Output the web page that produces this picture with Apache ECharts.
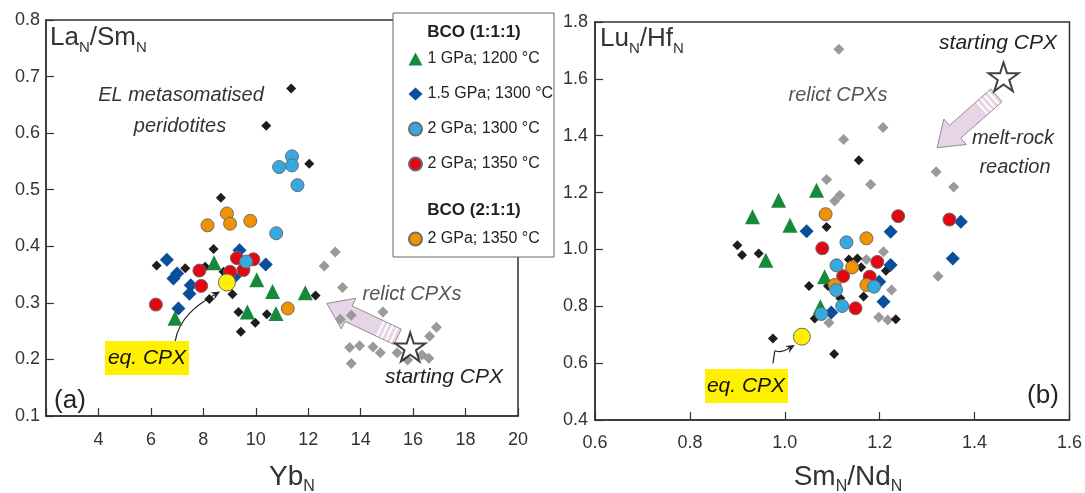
<!DOCTYPE html>
<html>
<head>
<meta charset="utf-8">
<script src="https://cdn.jsdelivr.net/npm/echarts@6/dist/echarts.min.js"></script>
<style>
  html, body { margin: 0; padding: 0; background: #fff; }
  #chart { width: 1085px; height: 493px; }
</style>
</head>
<body>
<div id="chart"></div>
<script>
// series names (legend)
const NAMES = ['1 GPa; 1200 °C', '1.5 GPa; 1300 °C', '2 GPa; 1300 °C', '2 GPa; 1350 °C', '2 GPa; 1350 °C (2:1:1)'];

// panel (a): Yb_N vs La_N/Sm_N
const aGreen = [[8.41, 0.371], [10.04, 0.341], [10.64, 0.320], [11.89, 0.318], [9.68, 0.284], [10.77, 0.281], [6.92, 0.273]];
const aBlueDia = [[6.61, 0.376], [9.38, 0.393], [10.38, 0.368], [6.86, 0.343], [7.0, 0.352], [7.52, 0.331], [7.47, 0.316], [7.05, 0.290], [9.19, 0.346]];
const aLBlue = [[11.38, 0.559], [10.89, 0.540], [11.38, 0.543], [11.59, 0.508], [10.78, 0.423], [9.63, 0.373]];
const aRed = [[9.28, 0.379], [9.91, 0.377], [9.53, 0.358], [7.85, 0.357], [7.92, 0.330], [6.19, 0.297], [9.02, 0.355]];
const aOrange = [[8.90, 0.458], [9.02, 0.440], [8.16, 0.437], [9.79, 0.445], [11.22, 0.290]];
const aBlack = [[11.35, 0.679], [10.4, 0.613], [12.04, 0.546], [8.67, 0.486], [8.39, 0.395], [6.22, 0.366], [7.31, 0.361],
  [8.07, 0.364], [8.77, 0.355], [8.23, 0.307], [9.11, 0.315], [9.34, 0.284], [10.42, 0.280], [9.98, 0.265], [9.43, 0.249], [12.28, 0.313]];
const aGrey = [[13.03, 0.390], [12.61, 0.365], [13.31, 0.327], [14.85, 0.284], [13.22, 0.271], [13.64, 0.278], [13.58, 0.221],
  [13.96, 0.224], [14.47, 0.222], [14.75, 0.212], [13.64, 0.193], [15.39, 0.212], [15.79, 0.199], [16.6, 0.202], [16.34, 0.208],
  [16.63, 0.241], [16.89, 0.257]];
const aEq = [[8.90, 0.336]];
const aStart = [[15.89, 0.222]];
const aArrow = [[15.41, 0.240, 12.71, 0.299]];
const aPointer = [[6.92, 0.231, 8.64, 0.320]];

// panel (b): Sm_N/Nd_N vs Lu_N/Hf_N
const bGreen = [[1.067, 1.208], [0.987, 1.173], [0.932, 1.115], [1.011, 1.085], [0.960, 0.962], [1.084, 0.904], [1.075, 0.798]];
const bBlueDia = [[1.046, 1.064], [1.098, 0.778], [1.371, 1.097], [1.223, 1.062], [1.354, 0.968], [1.223, 0.945], [1.199, 0.886], [1.208, 0.816]];
const bLBlue = [[1.109, 0.944], [1.108, 0.857], [1.077, 0.773], [1.130, 1.025], [1.188, 0.869], [1.121, 0.801]];
const bRed = [[1.079, 1.004], [1.239, 1.117], [1.347, 1.105], [1.195, 0.956], [1.123, 0.906], [1.179, 0.904], [1.149, 0.793]];
const bOrange = [[1.086, 1.124], [1.172, 1.039], [1.142, 0.937], [1.172, 0.875], [1.105, 0.875]];
const bBlack = [[1.088, 1.079], [0.900, 1.015], [0.910, 0.980], [0.945, 0.986], [1.051, 0.871], [1.091, 0.871], [1.063, 0.757],
  [0.975, 0.687], [1.104, 0.632], [1.156, 1.314], [1.135, 0.965], [1.153, 0.968], [1.161, 0.937], [1.213, 0.925], [1.117, 0.828],
  [1.166, 0.834], [1.234, 0.754]];
const bGrey = [[1.088, 1.246], [1.105, 1.170], [1.093, 0.742], [1.114, 1.704], [1.207, 1.429], [1.124, 1.387], [1.319, 1.273],
  [1.181, 1.228], [1.356, 1.220], [1.116, 1.191], [1.208, 0.992], [1.172, 0.965], [1.323, 0.906], [1.225, 0.857], [1.198, 0.761], [1.217, 0.752]];
const bEq = [[1.036, 0.693]];
const bStart = [[1.461, 1.607]];
const bArrow = [[1.446, 1.542, 1.321, 1.358]];
const bPointer = [[0.975, 0.599, 1.021, 0.664]];

const FONT = '"Liberation Sans", Arial, sans-serif';
const GREEN = '#17893b', DBLUE = '#0b4e9b', LBLUE = '#36a9e1', RED = '#e30613',
  ORANGE = '#f39200', BLACK = '#1d1d1b', GREY = '#9a9a9a', YELLOW = '#fff000';
const STAR = 'path://M50,2 L61,36 L97,36 L68,57 L79,92 L50,71 L21,92 L32,57 L3,36 L39,36 Z';

const chart = echarts.init(document.getElementById('chart'));

function dot(name, data, g, symbol, size, color, border, z) {
  return {
    type: 'scatter', name: name, data: data, xAxisIndex: g, yAxisIndex: g,
    symbol: symbol, symbolSize: size, z: z || 2, silent: true,
    itemStyle: { color: color, borderColor: border ? '#6b6b6b' : color, borderWidth: border ? 1 : 0, opacity: 1 }
  };
}

// pink "melt-rock reaction" arrow
function fatArrow(params, api) {
  const p0 = api.coord([api.value(0), api.value(1)]);
  const p1 = api.coord([api.value(2), api.value(3)]);
  const dx = p1[0] - p0[0], dy = p1[1] - p0[1], L = Math.hypot(dx, dy);
  const ux = dx / L, uy = dy / L, nx = -uy, ny = ux;
  const w = 8.5, hw = 17, hl = 24;
  const pt = (b, s, o) => [b[0] + ux * s + nx * o, b[1] + uy * s + ny * o];
  const nk = pt(p1, -hl, 0);
  const children = [{
    type: 'polygon',
    shape: { points: [pt(p0, 0, w), pt(nk, 0, w), pt(nk, 0, hw), p1, pt(nk, 0, -hw), pt(nk, 0, -w), pt(p0, 0, -w)] },
    style: { fill: '#e8d4e7', stroke: '#8e8e8e', lineWidth: 1 }
  }];
  [4, 9, 14, 19].forEach(s => {
    const a = pt(p0, s, w - 0.5), b = pt(p0, s, -w + 0.5);
    children.push({ type: 'line', shape: { x1: a[0], y1: a[1], x2: b[0], y2: b[1] }, style: { stroke: '#fff', lineWidth: 2 } });
  });
  return { type: 'group', children: children };
}

// curved thin pointer for "eq. CPX"
function pointer(params, api) {
  const p0 = api.coord([api.value(0), api.value(1)]);
  const p1 = api.coord([api.value(2), api.value(3)]);
  const c1 = [p0[0] + 4, p0[1] - 24];
  const c2 = [p1[0] - 24, p1[1] + 14];
  let ux = p1[0] - c2[0], uy = p1[1] - c2[1];
  const L = Math.hypot(ux, uy); ux /= L; uy /= L;
  const nx = -uy, ny = ux;
  const head = [p1, [p1[0] - ux * 9 + nx * 4, p1[1] - uy * 9 + ny * 4], [p1[0] - ux * 6, p1[1] - uy * 6],
    [p1[0] - ux * 9 - nx * 4, p1[1] - uy * 9 - ny * 4]];
  return {
    type: 'group', children: [
      { type: 'bezierCurve', shape: { x1: p0[0], y1: p0[1], cpx1: c1[0], cpy1: c1[1], cpx2: c2[0], cpy2: c2[1], x2: p1[0] - ux * 6, y2: p1[1] - uy * 6 },
        style: { stroke: '#222', lineWidth: 1.2, fill: null } },
      { type: 'polygon', shape: { points: head }, style: { fill: '#222' } }
    ]
  };
}

function annot(data, g, fn) {
  return { type: 'custom', data: data, xAxisIndex: g, yAxisIndex: g, renderItem: fn, silent: true, z: 1, clip: false };
}

function panelSeries(g, d) {
  return [
    annot(d.arrow, g, fatArrow),
    annot(d.pointer, g, pointer),
    dot('relict', d.grey, g, 'diamond', 11, GREY, false, 2),
    dot('peridotites', d.black, g, 'diamond', 10, BLACK, false, 2),
    dot(NAMES[0], d.green, g, 'triangle', 15, GREEN, false, 3),
    dot(NAMES[1], d.blueDia, g, 'diamond', 14, DBLUE, false, 3),
    dot(NAMES[3], d.red, g, 'circle', 13, RED, true, 3),
    dot(NAMES[4], d.orange, g, 'circle', 13, ORANGE, true, 3),
    dot(NAMES[2], d.lblue, g, 'circle', 13, LBLUE, true, 3),
    dot('eq', d.eq, g, 'circle', 17, YELLOW, true, 4),
    {
      type: 'scatter', name: 'start', data: d.start, xAxisIndex: g, yAxisIndex: g, symbol: STAR, symbolSize: 30,
      symbolKeepAspect: true, z: 4, silent: true, itemStyle: { color: '#fff', borderColor: '#111', borderWidth: 2 }
    }
  ];
}

const axisCommon = {
  type: 'value',
  splitLine: { show: false },
  axisLine: { lineStyle: { color: '#333', width: 1.5 } },
  axisTick: { inside: true, length: 8, lineStyle: { color: '#333', width: 1.2 } },
  axisLabel: { fontSize: 18, color: '#333', fontFamily: FONT }
};
const fix1 = v => v.toFixed(1);

function ax(extra, label) {
  return Object.assign({}, axisCommon, extra, { axisLabel: Object.assign({}, axisCommon.axisLabel, label) });
}

const rich = {
  m: { fontSize: 26, lineHeight: 34, fontFamily: FONT, color: '#222' },
  s: { fontSize: 15, lineHeight: 17, verticalAlign: 'bottom', fontFamily: FONT, color: '#222' },
  M: { fontSize: 28, lineHeight: 36, fontFamily: FONT, color: '#222' },
  S: { fontSize: 16, lineHeight: 18, verticalAlign: 'bottom', fontFamily: FONT, color: '#222' }
};

function txt(x, y, text, size, opts) {
  return Object.assign({
    type: 'text', x: x, y: y, z: 20, silent: true,
    style: Object.assign({ text: text, fontSize: size, fontFamily: FONT, fill: '#333', align: 'center', verticalAlign: 'middle' }, opts || {})
  });
}
function itxt(x, y, text, color) {
  return txt(x, y, text, 20, { fontStyle: 'italic', fill: color || '#333' });
}

const option = {
  animation: false,
  textStyle: { fontFamily: FONT },
  grid: [
    { left: 46, top: 20, width: 472, height: 396, show: true, borderColor: '#333', borderWidth: 1.5, backgroundColor: 'transparent' },
    { left: 595, top: 22, width: 475, height: 398, show: true, borderColor: '#333', borderWidth: 1.5, backgroundColor: 'transparent' }
  ],
  xAxis: [
    ax({ gridIndex: 0, min: 2, max: 20, interval: 2 }, { margin: 15, formatter: v => (v === 2 ? '' : String(v)) }),
    ax({ gridIndex: 1, min: 0.6, max: 1.6, interval: 0.2 }, { margin: 14, formatter: fix1 })
  ],
  yAxis: [
    ax({ gridIndex: 0, min: 0.1, max: 0.8, interval: 0.1 }, { margin: 6, formatter: fix1 }),
    ax({ gridIndex: 1, min: 0.4, max: 1.8, interval: 0.2 }, { margin: 7, formatter: fix1 })
  ],
  legend: [
    {
      data: NAMES.slice(0, 4), orient: 'vertical', left: 403, top: 46, itemGap: 19, itemWidth: 14, itemHeight: 13,
      selectedMode: false, z: 30, textStyle: { fontSize: 16, color: '#222', lineHeight: 16, fontFamily: FONT }
    },
    {
      data: [NAMES[4]], orient: 'vertical', left: 403, top: 226, itemWidth: 14, itemHeight: 13,
      selectedMode: false, z: 30, formatter: n => n.replace(' (2:1:1)', ''),
      textStyle: { fontSize: 16, color: '#222', lineHeight: 16, fontFamily: FONT }
    }
  ],
  graphic: [
    { type: 'rect', z: 15, silent: true, shape: { x: 393, y: 13, width: 161, height: 244 }, style: { fill: '#fff', stroke: '#666', lineWidth: 1 } },
    txt(474, 32, 'BCO (1:1:1)', 17, { fontWeight: 'bold', fill: '#222' }),
    txt(474, 210, 'BCO (2:1:1)', 17, { fontWeight: 'bold', fill: '#222' }),
    // panel titles
    txt(50, 21, '{m|La}{s|N}{m|/Sm}{s|N}', 26, { rich: rich, align: 'left', verticalAlign: 'top' }),
    txt(600, 22, '{m|Lu}{s|N}{m|/Hf}{s|N}', 26, { rich: rich, align: 'left', verticalAlign: 'top' }),
    txt(292, 459, '{M|Yb}{S|N}', 28, { rich: rich, verticalAlign: 'top' }),
    txt(848, 459, '{M|Sm}{S|N}{M|/Nd}{S|N}', 28, { rich: rich, verticalAlign: 'top' }),
    txt(70, 401, '(a)', 26, { fill: '#222' }),
    txt(1043, 396, '(b)', 26, { fill: '#222' }),
    // annotations
    itxt(181, 95, 'EL metasomatised', '#333'),
    itxt(180, 126, 'peridotites', '#333'),
    itxt(412, 294, 'relict CPXs', '#555'),
    txt(444, 377, 'starting CPX', 21, { fontStyle: 'italic', fill: '#222' }),
    itxt(838, 95, 'relict CPXs', '#555'),
    txt(998, 43, 'starting CPX', 21, { fontStyle: 'italic', fill: '#222' }),
    itxt(1013, 138, 'melt-rock', '#333'),
    itxt(1015, 167, 'reaction', '#333'),
    { type: 'rect', z: 18, silent: true, shape: { x: 105, y: 341, width: 84, height: 34 }, style: { fill: YELLOW } },
    txt(147, 358, 'eq. CPX', 21, { fontStyle: 'italic', fill: '#111' }),
    { type: 'rect', z: 18, silent: true, shape: { x: 705, y: 369, width: 83, height: 34 }, style: { fill: YELLOW } },
    txt(746, 386, 'eq. CPX', 21, { fontStyle: 'italic', fill: '#111' })
  ],
  series: [].concat(
    panelSeries(0, { arrow: aArrow, pointer: aPointer, grey: aGrey, black: aBlack, green: aGreen, blueDia: aBlueDia,
      red: aRed, orange: aOrange, lblue: aLBlue, eq: aEq, start: aStart }),
    panelSeries(1, { arrow: bArrow, pointer: bPointer, grey: bGrey, black: bBlack, green: bGreen, blueDia: bBlueDia,
      red: bRed, orange: bOrange, lblue: bLBlue, eq: bEq, start: bStart })
  )
};

chart.setOption(option);
</script>
</body>
</html>
